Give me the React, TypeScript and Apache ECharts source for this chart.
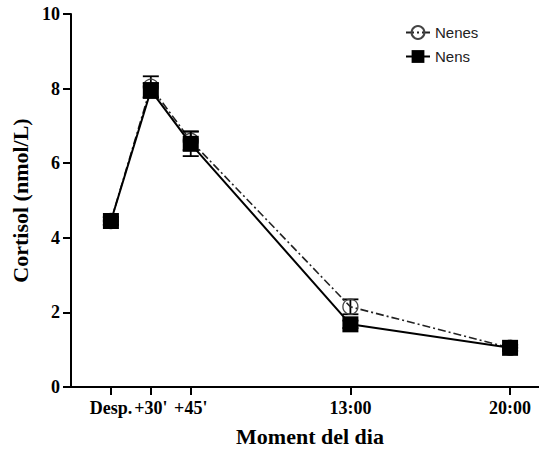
import React, { useEffect, useRef } from "react";
import * as echarts from "echarts";

const categories = ["Desp.", "+30'", "+45'", "13:00", "20:00"];
const positions = [1, 2, 3, 7, 11];
const nenesMean = [4.45, 8.05, 6.6, 2.15, 1.05];
const nenesErr = [0.1, 0.28, 0.25, 0.2, 0.08];
const nensMean = [4.45, 7.95, 6.52, 1.68, 1.05];
const nensErr = [0.1, 0.2, 0.33, 0.1, 0.08];
const yTicks = [0, 2, 4, 6, 8, 10];

const serif = "Liberation Serif, Times New Roman, serif";

function errData(mean: number[], err: number[]) {
  return positions.map((p, i) => [p, mean[i] - err[i], mean[i] + err[i]]);
}

function errRender(params: any, api: any) {
  const x = api.value(0);
  const lo = api.coord([x, api.value(1)]);
  const hi = api.coord([x, api.value(2)]);
  const hw = 8;
  const style = { stroke: "#000", lineWidth: 1.8 };
  return {
    type: "group",
    children: [
      { type: "line", shape: { x1: lo[0], y1: lo[1], x2: hi[0], y2: hi[1] }, style },
      { type: "line", shape: { x1: hi[0] - hw, y1: hi[1], x2: hi[0] + hw, y2: hi[1] }, style },
      { type: "line", shape: { x1: lo[0] - hw, y1: lo[1], x2: lo[0] + hw, y2: lo[1] }, style },
    ],
  };
}

export default function App() {
  const ref = useRef<HTMLDivElement>(null);
  useEffect(() => {
    if (!ref.current) return;
    const chart = echarts.init(ref.current, undefined, { renderer: "svg" });
    chart.setOption({
      animation: false,
      backgroundColor: "#fff",
      grid: { left: 71, right: 0, top: 14, bottom: 64, containLabel: false },
      legend: {
        orient: "vertical",
        left: 400,
        top: 20,
        itemWidth: 24,
        itemHeight: 16,
        itemGap: 9,
        textStyle: { fontFamily: "Liberation Sans, Arial, sans-serif", fontSize: 15, color: "#222" },
        data: ["Nenes", "Nens"],
      },
      xAxis: {
        type: "value",
        min: 0,
        max: 11.725,
        name: "Moment del dia",
        nameLocation: "middle",
        nameGap: 38,
        nameTextStyle: { fontFamily: serif, fontWeight: "bold", fontSize: 22, color: "#000", padding: [0, 0, 0, 10] },
        axisLine: { show: true, lineStyle: { color: "#000", width: 2 } },
        axisTick: { show: true, length: 8, lineStyle: { color: "#000", width: 2 }, customValues: positions },
        axisLabel: {
          fontFamily: serif,
          fontWeight: "bold",
          fontSize: 18,
          color: "#000",
          margin: 12,
          customValues: positions,
          formatter: (v: number) => {
            const i = positions.indexOf(v);
            return i >= 0 ? categories[i] : "";
          },
        },
        splitLine: { show: false },
      },
      yAxis: {
        type: "value",
        min: 0,
        max: 10,
        interval: 2,
        name: "Cortisol (nmol/L)",
        nameLocation: "middle",
        nameGap: 37,
        nameTextStyle: { fontFamily: serif, fontWeight: "bold", fontSize: 22, color: "#000" },
        axisLine: { show: true, lineStyle: { color: "#000", width: 2 } },
        axisTick: { show: true, length: 8, lineStyle: { color: "#000", width: 2 }, customValues: yTicks },
        axisLabel: { fontFamily: serif, fontWeight: "bold", fontSize: 18, color: "#000", margin: 11, customValues: yTicks },
        splitLine: { show: false },
      },
      series: [
        {
          name: "Nenes",
          type: "line",
          data: positions.map((p, i) => [p, nenesMean[i]]),
          symbol: "circle",
          symbolSize: 15,
          z: 2,
          lineStyle: { color: "#222", width: 1.6, type: [8, 3, 2, 3] },
          itemStyle: { color: "rgba(255,255,255,0)", borderColor: "#444", borderWidth: 1.3 },
        },
        {
          name: "NenesErr",
          type: "custom",
          renderItem: errRender,
          data: errData(nenesMean, nenesErr),
          encode: { x: 0, y: [1, 2] },
          z: 1,
        },
        {
          name: "NensErr",
          type: "custom",
          renderItem: errRender,
          data: errData(nensMean, nensErr),
          encode: { x: 0, y: [1, 2] },
          z: 3,
        },
        {
          name: "Nens",
          type: "line",
          data: positions.map((p, i) => [p, nensMean[i]]),
          symbol: "rect",
          symbolSize: 16,
          z: 4,
          lineStyle: { color: "#000", width: 2 },
          itemStyle: { color: "#000" },
        },
      ],
    });
    return () => chart.dispose();
  }, []);
  return <div ref={ref} style={{ position: "fixed", left: 0, top: 0, width: 539, height: 452 }} />;
}
